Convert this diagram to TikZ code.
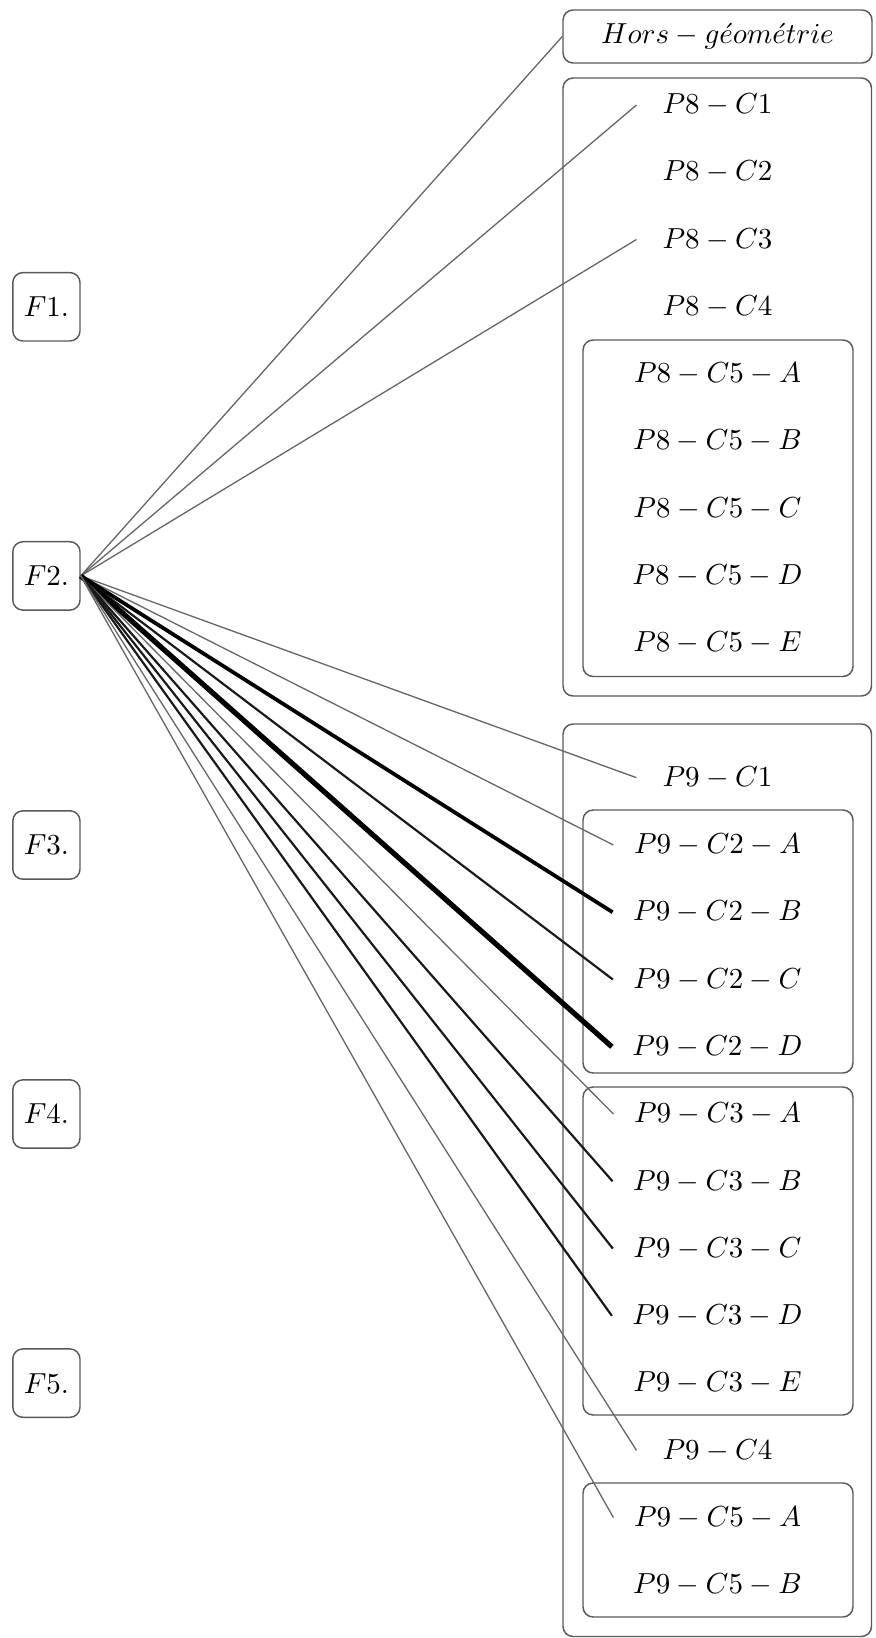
\documentclass[tikz,border=0pt]{standalone}
\begin{document}
\begin{tikzpicture}[x=0.345pt,y=-0.345pt,
  fbox/.style={draw=black!65, line width=0.5pt, rounded corners=3.5pt, minimum width=23.2pt, minimum height=23.6pt, inner sep=0pt},
  hbox/.style={draw=black!65, line width=0.5pt, rounded corners=3.5pt, minimum width=106.6pt, minimum height=18.3pt, inner sep=0pt},
  item/.style={inner xsep=6.9pt, minimum width=55.5pt},
  frame/.style={draw=black!65, line width=0.5pt, rounded corners=3.5pt},
  lthin/.style={draw=black!60, line width=0.45pt},
  lmed/.style={draw=black!90, line width=0.75pt},
  lthick/.style={draw=black, line width=1.3pt},
  lheavy/.style={draw=black, line width=1.8pt}]
\useasboundingbox (0,0) rectangle (875,1638);
% F boxes
\node[fbox] (F1) at (46.4,306.8) {$F1.$};
\node[fbox] (F2) at (46.4,575.9) {$F2.$};
\node[fbox] (F3) at (46.4,845.0) {$F3.$};
\node[fbox] (F4) at (46.4,1114.0) {$F4.$};
\node[fbox] (F5) at (46.4,1383.1) {$F5.$};
% Hors
\node[hbox] (H) at (717.5,36.5) {$Hors-g\acute{e}om\acute{e}trie$};
% frames
\draw[frame] (563,78) rectangle (871.5,696);
\draw[frame] (583,340) rectangle (853,676.5);
\draw[frame] (563,724) rectangle (871.5,1636.5);
\draw[frame] (583,810) rectangle (853,1073);
\draw[frame] (583,1087) rectangle (853,1415);
\draw[frame] (583,1483) rectangle (853,1617);
% P8 items
\node[item] (p8c1) at (717.5,105.0) {$P8-C1$};
\node[item] (p8c2) at (717.5,172.2) {$P8-C2$};
\node[item] (p8c3) at (717.5,239.5) {$P8-C3$};
\node[item] (p8c4) at (717.5,306.8) {$P8-C4$};
\node[item] (p8c5a) at (717.5,374.1) {$P8-C5-A$};
\node[item] (p8c5b) at (717.5,441.3) {$P8-C5-B$};
\node[item] (p8c5c) at (717.5,508.6) {$P8-C5-C$};
\node[item] (p8c5d) at (717.5,575.9) {$P8-C5-D$};
\node[item] (p8c5e) at (717.5,643.1) {$P8-C5-E$};
% P9 items
\node[item] (p9c1) at (717.5,777.7) {$P9-C1$};
\node[item] (p9c2a) at (717.5,845.0) {$P9-C2-A$};
\node[item] (p9c2b) at (717.5,912.2) {$P9-C2-B$};
\node[item] (p9c2c) at (717.5,979.5) {$P9-C2-C$};
\node[item] (p9c2d) at (717.5,1046.8) {$P9-C2-D$};
\node[item] (p9c3a) at (717.5,1114.0) {$P9-C3-A$};
\node[item] (p9c3b) at (717.5,1181.3) {$P9-C3-B$};
\node[item] (p9c3c) at (717.5,1248.6) {$P9-C3-C$};
\node[item] (p9c3d) at (717.5,1315.8) {$P9-C3-D$};
\node[item] (p9c3e) at (717.5,1383.1) {$P9-C3-E$};
\node[item] (p9c4) at (717.5,1450.4) {$P9-C4$};
\node[item] (p9c5a) at (717.5,1517.6) {$P9-C5-A$};
\node[item] (p9c5b) at (717.5,1584.9) {$P9-C5-B$};
% connectors
\draw[lthin] (F2.east) -- (H.west);
\draw[lthin] (F2.east) -- (p8c1.west);
\draw[lthin] (F2.east) -- (p8c3.west);
\draw[lthin] (F2.east) -- (p9c1.west);
\draw[lthin] (F2.east) -- (p9c2a.west);
\draw[lthick] (F2.east) -- (p9c2b.west);
\draw[lmed] (F2.east) -- (p9c2c.west);
\draw[lheavy] (F2.east) -- (p9c2d.west);
\draw[lthin] (F2.east) -- (p9c3a.west);
\draw[lmed] (F2.east) -- (p9c3b.west);
\draw[lmed] (F2.east) -- (p9c3c.west);
\draw[lmed] (F2.east) -- (p9c3d.west);
\draw[lthin] (F2.east) -- (p9c4.west);
\draw[lthin] (F2.east) -- (p9c5a.west);
\end{tikzpicture}
\end{document}
